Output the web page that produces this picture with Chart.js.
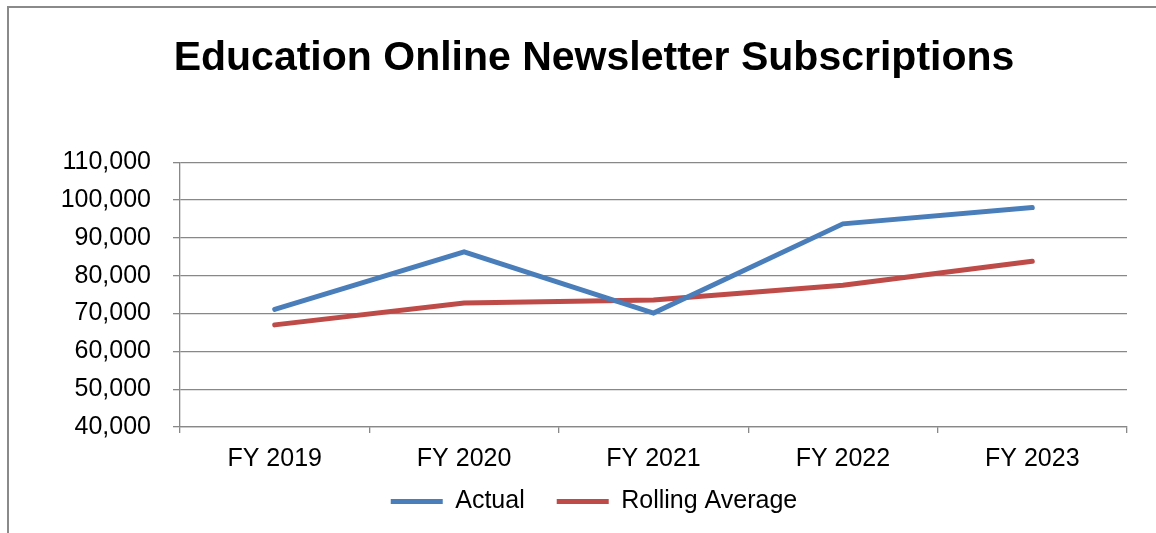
<!DOCTYPE html>
<html>
<head>
<meta charset="utf-8">
<script src="https://cdn.jsdelivr.net/npm/chart.js@4.4.1/dist/chart.umd.min.js"></script>
<style>
  html, body { margin: 0; padding: 0; background: #fff; overflow: hidden; }
  #frame {
    position: absolute; left: 7px; top: 6px;
    width: 1170px; height: 600px;
    border: 2px solid #8a8a8a;
  }
  canvas { display: block; }
</style>
</head>
<body>
<div id="frame"><canvas id="chart" width="1170" height="516"></canvas></div>
<script>
const fiscalYears = ["FY 2019", "FY 2020", "FY 2021", "FY 2022", "FY 2023"];
const actualSubs = [71100, 86300, 70100, 93700, 98000];
const rollingAverage = [67000, 72800, 73600, 77500, 83800];
const yMin = 40000;
const yMax = 110000;
const yStep = 10000;

const gridGray = "#888888";
const labelFont = { family: "'Liberation Sans', Arial, sans-serif", size: 25 };

const ctx = document.getElementById("chart");

// x axis is squeezed in afterFit so the legend sits close; give the labels room again before drawing
const unclipXLabels = {
  id: "unclipXLabels",
  afterLayout(chart) {
    chart.scales.x.bottom = chart.scales.x.top + 50;
  },
};

new Chart(ctx, {
  type: "line",
  data: {
    labels: fiscalYears,
    datasets: [
      {
        label: "Actual",
        data: actualSubs,
        borderColor: "#4a7ebb",
        backgroundColor: "#4a7ebb",
        borderWidth: 5,
        pointRadius: 0,
        pointStyle: "line",
        tension: 0,
        borderCapStyle: "round",
      },
      {
        label: "Rolling Average",
        data: rollingAverage,
        borderColor: "#be4b48",
        backgroundColor: "#be4b48",
        borderWidth: 5,
        pointRadius: 0,
        pointStyle: "line",
        tension: 0,
        borderCapStyle: "round",
      },
    ],
  },
  options: {
    responsive: false,
    animation: false,
    devicePixelRatio: 1,
    layout: { padding: { left: 52, right: 52, top: 0, bottom: 0 } },
    plugins: {
      title: {
        display: true,
        text: "Education Online Newsletter Subscriptions",
        color: "#000",
        font: { family: "'Liberation Sans', Arial, sans-serif", size: 41, weight: "bold" },
        padding: { top: 26, bottom: 79 },
      },
      legend: {
        position: "bottom",
        labels: {
          color: "#000",
          font: labelFont,
          usePointStyle: true,
          pointStyleWidth: 52,
          boxHeight: 25,
          padding: 32,
        },
      },
      tooltip: { enabled: false },
    },
    scales: {
      x: {
        offset: true,
        grid: {
          drawOnChartArea: false,
          drawTicks: true,
          tickLength: 6,
          color: gridGray,
          lineWidth: 1.3,
          offset: true,
        },
        border: { color: gridGray, width: 1.3 },
        ticks: { color: "#000", font: labelFont, padding: 11 },
        afterFit: (scale) => {
          scale.height = 30;
        },
      },
      y: {
        min: yMin,
        max: yMax,
        grid: { color: gridGray, lineWidth: 1.3, tickLength: 7 },
        border: { color: gridGray, width: 1.3 },
        ticks: {
          stepSize: yStep,
          color: "#000",
          font: labelFont,
          padding: 22,
          callback: (value) => value.toLocaleString("en-US"),
        },
        afterFit: (scale) => {
          scale.width = 119;
        },
      },
    },
  },
  plugins: [unclipXLabels],
});
</script>
</body>
</html>
